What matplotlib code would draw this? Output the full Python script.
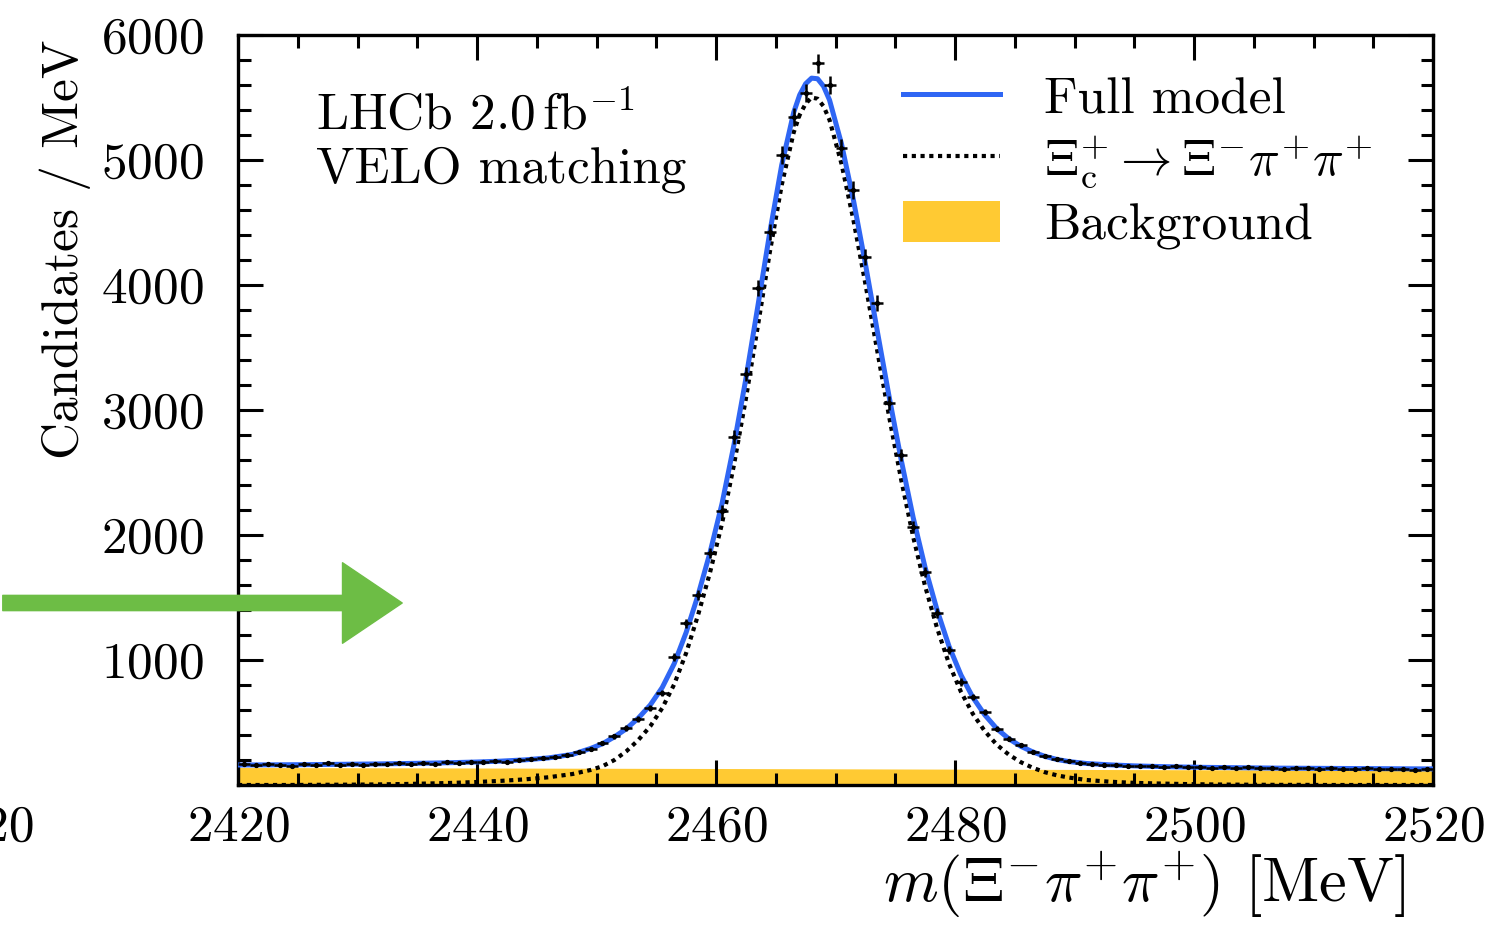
import numpy as np
import matplotlib
matplotlib.use("Agg")
from matplotlib import pyplot as plt
from matplotlib.patches import FancyArrowPatch, Patch
from matplotlib.lines import Line2D
from matplotlib.ticker import MultipleLocator

"""
Invariant-mass fit of Xi_c+ -> Xi- pi+ pi+ candidates (LHCb style).
"""

# data points, 1 MeV bins
bin_centres = np.arange(2420.5, 2520.0, 1.0)
counts = [168, 158, 171, 162, 155, 166, 160, 173, 164, 169,
          159, 172, 167, 176, 165, 178, 171, 183, 176, 186,
          181, 192, 188, 197, 205, 214, 226, 238, 262, 285,
          336, 390, 456, 530, 616, 736, 1024, 1296, 1520, 1856,
          2190, 2784, 3288, 3976, 4424, 5040, 5344, 5536, 5776, 5600,
          5096, 4760, 4224, 3856, 3056, 2640, 2064, 1704, 1376, 1080,
          824, 704, 584, 452, 372, 318, 262, 236, 207, 190,
          176, 171, 160, 163, 152, 149, 155, 144, 150, 141,
          146, 139, 147, 136, 142, 134, 140, 131, 138, 133,
          129, 136, 131, 127, 134, 125, 131, 128, 124, 130]

# fit curves
model_x = ([2420, 2422, 2424, 2426, 2428, 2430, 2432, 2434, 2436, 2438,
            2440, 2442, 2444, 2446, 2448]
           + list(np.arange(2449.5, 2467.0, 1.0))
           + [2467.0, 2467.5, 2468.0, 2468.5, 2469.0]
           + list(np.arange(2469.5, 2490.0, 1.0))
           + [2491, 2493, 2495, 2497, 2499, 2501, 2503, 2505, 2507, 2509,
              2511, 2513, 2515, 2517, 2519, 2520])
full_model = ([160, 161, 162, 163, 165, 167, 169, 172, 175, 179,
               184, 191, 201, 217, 245]
              + [292, 330, 385, 450, 535, 640, 780, 970, 1220, 1520,
                 1860, 2250, 2720, 3250, 3830, 4420, 4960, 5380]
              + [5520, 5610, 5655, 5650, 5590]
              + [5480, 5130, 4680, 4170, 3630, 3100, 2600, 2140, 1740, 1400,
                 1110, 880, 700, 560, 450, 370, 310, 265, 230, 205, 188]
              + [172, 161, 153, 148, 144, 141, 139, 137, 135, 134,
                 133, 132, 131, 130, 129, 129])
signal_model = ([0, 0, 0, 1, 2, 3, 5, 8, 12, 17,
                 24, 33, 45, 62, 88]
                + [120, 150, 200, 270, 360, 470, 615, 805, 1055, 1360,
                   1700, 2090, 2560, 3090, 3670, 4260, 4800, 5220]
                + [5360, 5450, 5500, 5490, 5430]
                + [5320, 4970, 4520, 4010, 3470, 2940, 2440, 1985, 1590, 1255,
                   970, 745, 568, 430, 322, 243, 183, 138, 103, 78, 60]
                + [40, 26, 17, 12, 8, 5, 3, 2, 1, 1,
                   0, 0, 0, 0, 0, 0])
bkg_x = [2420, 2440, 2460, 2480, 2500, 2520]
bkg_model = [140, 136, 132, 127, 122, 118]

blue = "#2f66f4"
yellow = "#ffca33"

plt.rcParams["font.family"] = "cmr10"
plt.rcParams["mathtext.fontset"] = "cm"
plt.rcParams["axes.formatter.use_mathtext"] = True
fs = 37

fig = plt.figure(figsize=(14.86, 9.25), dpi=100)
ax = fig.add_axes([238 / 1486, 1 - 785 / 925, (1433 - 238) / 1486, (785 - 35) / 925])

ax.fill_between(bkg_x, 0, bkg_model, color=yellow, lw=0, zorder=1)
ax.plot(model_x, signal_model, color="black", lw=3, ls=(0, (1, 1.1)), zorder=2)
ax.plot(model_x, full_model, color=blue, lw=3.6, zorder=3)
counts = np.array(counts)
ax.errorbar(bin_centres, counts, yerr=np.sqrt(counts), xerr=0.5, fmt="o",
            color="black", ms=2.8, elinewidth=1.8, capsize=0, zorder=4)

ax.set_xlim(2420, 2520)
ax.set_ylim(0, 6000)
ax.xaxis.set_major_locator(MultipleLocator(20))
ax.xaxis.set_minor_locator(MultipleLocator(5))
ax.yaxis.set_minor_locator(MultipleLocator(200))
ax.set_yticks([1000, 2000, 3000, 4000, 5000, 6000])
ax.tick_params(which="both", direction="in", top=True, right=True,
               width=2.2, labelsize=fs)
ax.tick_params(which="major", length=18)
ax.tick_params(which="minor", length=9)
ax.tick_params(axis="x", which="major", pad=14)
ax.tick_params(axis="y", which="major", pad=25)
for s in ax.spines.values():
    s.set_linewidth(2.4)

ax.set_xlabel(r"$m(\Xi^{-}\pi^{+}\pi^{+})$ [MeV]", fontsize=45, ha="right", va="center")
ax.xaxis.set_label_coords((1405 - 238) / 1195, (785 - 885) / 750)
ax.set_ylabel("Candidates / MeV", fontsize=fs, ha="right", va="center")
ax.yaxis.set_label_coords((65 - 238) / 1195, 1 - 5 / 750)

ax.text(0.065, 0.893, r"LHCb $2.0\,\mathrm{fb}^{-1}$", transform=ax.transAxes,
        fontsize=fs, va="center")
ax.text(0.065, 0.82, "VELO matching", transform=ax.transAxes,
        fontsize=fs, va="center")

handles = [Line2D([], [], color=blue, lw=3.6),
           Line2D([], [], color="black", lw=3, ls=(0, (1, 1.1))),
           Patch(facecolor=yellow, edgecolor="none")]
labels = ["Full model", r"$\Xi_{\mathrm{c}}^{+}\to\Xi^{-}\pi^{+}\pi^{+}$", "Background"]
ax.legend(handles, labels, loc="upper left", bbox_to_anchor=(0.539, 0.974),
          frameon=False, fontsize=fs, handlelength=1.9, handletextpad=0.85,
          handleheight=0.85, labelspacing=0.2, borderaxespad=0)

# cut-off tick label of the neighbouring panel
fig.text(35 / 1486, 1 - 828 / 925, "2520", fontsize=fs, ha="right", va="center")

# hand-drawn green arrow
arrow = FancyArrowPatch((0, 925 - 603), (405, 925 - 603),
                        transform=None, color="#6dbd45",
                        arrowstyle="simple,head_length=43,head_width=58,tail_width=11",
                        mutation_scale=1, zorder=10)
fig.add_artist(arrow)

fig.savefig("out.png", dpi=100)
